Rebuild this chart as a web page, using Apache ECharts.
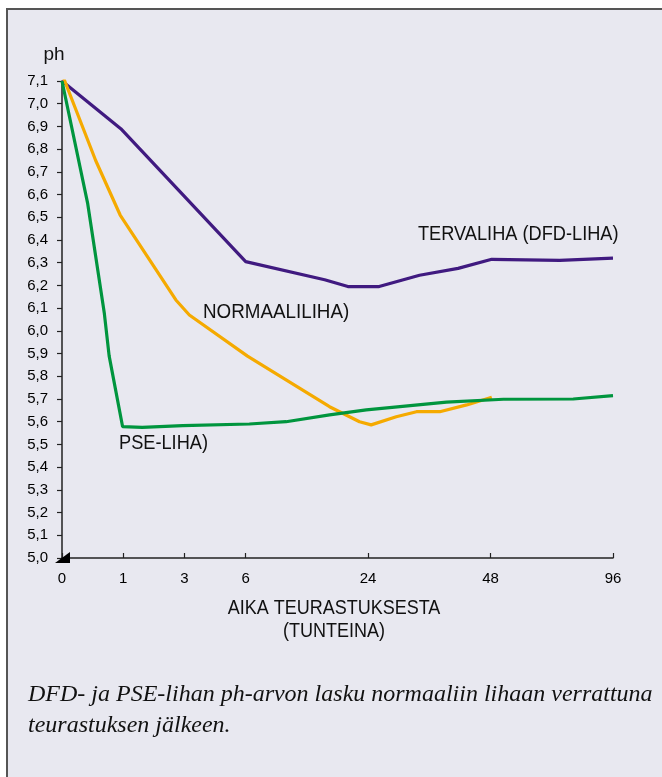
<!DOCTYPE html>
<html>
<head>
<meta charset="utf-8">
<script src="https://cdn.jsdelivr.net/npm/echarts@6/dist/echarts.min.js"></script>
<style>
  html, body { margin: 0; padding: 0; background: #fff; }
  #chart { width: 662px; height: 777px; }
</style>
</head>
<body>
<div id="chart"></div>
<script>
// x positions are axis slots: 0,1,2,3,5,7,9 carry the hour labels
var xTickPos = [0, 1, 2, 3, 5, 7, 9];
var xTickLabels = ['0', '1', '3', '6', '24', '48', '96'];

// TERVALIHA (DFD-LIHA)
var dfdX = [0, 0.96, 3.0, 4.29, 4.67, 5.18, 5.84, 6.47, 7.02, 8.13, 9.0];
var dfdY = [7.1, 6.89, 6.305, 6.225, 6.195, 6.195, 6.245, 6.275, 6.315, 6.31, 6.32];

// NORMAALILIHA
var normX = [0.03, 0.55, 0.95, 1.86, 2.08, 3.03, 4.37, 4.86, 5.05, 5.46, 5.79, 6.17, 6.61, 7.02];
var normY = [7.11, 6.75, 6.51, 6.136, 6.07, 5.889, 5.666, 5.60, 5.586, 5.622, 5.644, 5.644, 5.674, 5.708];

// PSE-LIHA
var pseX = [0, 0.42, 0.69, 0.77, 0.99, 1.31, 1.97, 3.06, 3.66, 4.37, 4.97, 6.28, 7.21, 8.35, 9.0];
var pseY = [7.1, 6.56, 6.08, 5.89, 5.578, 5.575, 5.583, 5.59, 5.60, 5.63, 5.652, 5.686, 5.699, 5.70, 5.715];

function pairs(xs, ys) {
  return xs.map(function (x, i) { return [x, ys[i]]; });
}

var sans = '"Liberation Sans", Arial, sans-serif';
var chart = echarts.init(document.getElementById('chart'));

function lineSeries(name, xs, ys, color) {
  return {
    name: name,
    type: 'line',
    data: pairs(xs, ys),
    symbol: 'none',
    smooth: false,
    lineStyle: { color: color, width: 3.2 },
    z: 3
  };
}

var option = {
  animation: false,
  backgroundColor: '#fff',
  grid: { left: 62, right: 49, top: 81, bottom: 219 },
  xAxis: {
    type: 'value',
    min: 0,
    max: 9,
    interval: 1,
    axisLine: { lineStyle: { color: '#222', width: 1.5 } },
    axisTick: { inside: true, length: 5, customValues: xTickPos, lineStyle: { color: '#222', width: 1.2 } },
    axisLabel: {
      customValues: xTickPos,
      margin: 13,
      color: '#000',
      fontFamily: sans,
      fontSize: 15,
      formatter: function (v) {
        var i = xTickPos.indexOf(Math.round(v));
        return i >= 0 ? xTickLabels[i] : '';
      }
    },
    splitLine: { show: false }
  },
  yAxis: {
    type: 'value',
    min: 5.0,
    max: 7.1,
    interval: 0.1,
    axisLine: { show: true, lineStyle: { color: '#222', width: 1.5 } },
    axisTick: { show: true, length: 5, lineStyle: { color: '#222', width: 1.2 } },
    axisLabel: {
      margin: 14,
      color: '#000',
      fontFamily: sans,
      fontSize: 15,
      formatter: function (v) { return v.toFixed(1).replace('.', ','); }
    },
    splitLine: { show: false }
  },
  series: [
    lineSeries('TERVALIHA (DFD-LIHA)', dfdX, dfdY, '#401a80'),
    lineSeries('NORMAALILIHA', normX, normY, '#f5aa00'),
    lineSeries('PSE-LIHA', pseX, pseY, '#00953e')
  ],
  graphic: [
    { type: 'rect', z: -10, silent: true,
      shape: { x: 7, y: 9, width: 700, height: 800 },
      style: { fill: '#e8e8f0', stroke: '#555', lineWidth: 2 } },
    { type: 'text', x: 54, y: 55, style: { text: 'ph', fill: '#111', font: '19px ' + sans, align: 'center', verticalAlign: 'middle' } },
    { type: 'text', x: 418, y: 234, scaleX: 0.91, style: { text: 'TERVALIHA (DFD-LIHA)', fill: '#111', font: '20px ' + sans, verticalAlign: 'middle' } },
    { type: 'text', x: 203, y: 312, scaleX: 0.94, style: { text: 'NORMAALILIHA)', fill: '#111', font: '20px ' + sans, verticalAlign: 'middle' } },
    { type: 'text', x: 119, y: 443, scaleX: 0.91, style: { text: 'PSE-LIHA)', fill: '#111', font: '20px ' + sans, verticalAlign: 'middle' } },
    { type: 'text', x: 334, y: 608, scaleX: 0.9, style: { text: 'AIKA TEURASTUKSESTA', fill: '#111', font: '20px ' + sans, align: 'center', verticalAlign: 'middle' } },
    { type: 'text', x: 334, y: 631, scaleX: 0.9, style: { text: '(TUNTEINA)', fill: '#111', font: '20px ' + sans, align: 'center', verticalAlign: 'middle' } },
    { type: 'text', x: 28, y: 695, style: { text: 'DFD- ja PSE-lihan ph-arvon lasku normaaliin lihaan verrattuna', fill: '#111', font: 'italic 24px "Liberation Serif", serif', verticalAlign: 'middle' } },
    { type: 'text', x: 28, y: 726, style: { text: 'teurastuksen jälkeen.', fill: '#111', font: 'italic 24px "Liberation Serif", serif', verticalAlign: 'middle' } }
  ]
};
chart.setOption(option);

// small black corner wedge at the origin
var o = chart.convertToPixel({ gridIndex: 0 }, [0, 5.0]);
chart.setOption({
  graphic: option.graphic.concat([{
    type: 'polygon', z: 10, silent: true,
    shape: { points: [[o[0] - 7, o[1] + 5], [o[0] + 8, o[1] + 5], [o[0] + 8, o[1] - 6]] },
    style: { fill: '#000' }
  }])
});
</script>
</body>
</html>
